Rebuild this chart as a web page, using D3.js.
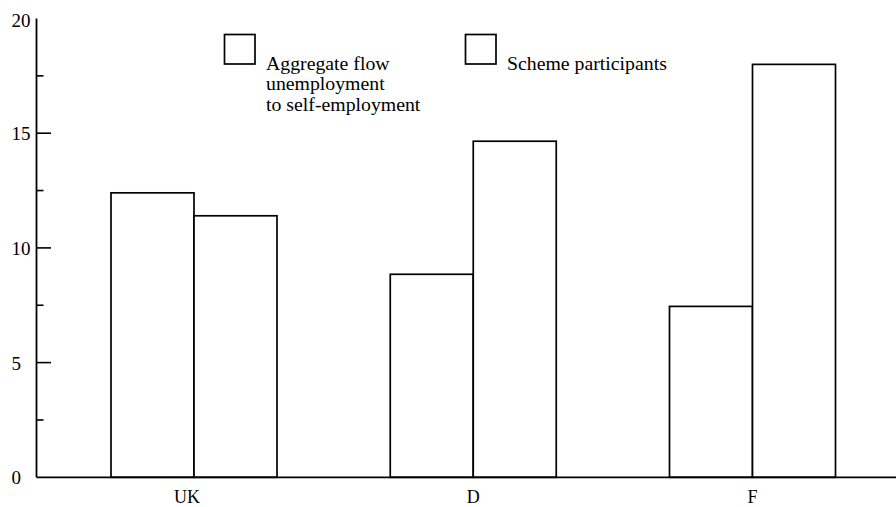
<!DOCTYPE html>
<html><head><meta charset="utf-8">
<script src="https://cdn.jsdelivr.net/npm/d3@7"></script>
<style>html,body{margin:0;padding:0;background:#fff;}svg{display:block;}</style>
</head><body>
<script>
const categories = ["UK", "D", "F"];
const seriesNames = ["Aggregate flow unemployment to self-employment", "Scheme participants"];
const aggregateFlow = [12.4, 8.85, 7.45];
const schemeParticipants = [11.4, 14.65, 18.0];
const majorTicks = [0, 5, 10, 15, 20];
const minorTicks = [2.5, 7.5, 12.5, 17.5];

const W = 896, H = 507;
const svg = d3.select("body").append("svg").attr("width", W).attr("height", H);
const font = "'Liberation Serif', 'Times New Roman', serif";

const y = d3.scaleLinear().domain([0, 20]).range([477.3, 18.5]);
const x = d3.scalePoint().domain(categories).range([194, 752.5]);
const xs = d3.scaleBand().domain(seriesNames).range([-83, 83]).padding(0);

const data = categories.map((c, i) => ({cat: c, values: [aggregateFlow[i], schemeParticipants[i]]}));

// bars
const g = svg.append("g");
data.forEach(d => {
  d.values.forEach((v, j) => {
    g.append("rect")
      .attr("x", x(d.cat) + xs(seriesNames[j]))
      .attr("y", y(v))
      .attr("width", xs.bandwidth())
      .attr("height", y(0) - y(v))
      .attr("fill", "#fff").attr("stroke", "#000").attr("stroke-width", 1.7);
  });
});

// y axis line
svg.append("line").attr("x1", 36.5).attr("x2", 36.5).attr("y1", y(20)).attr("y2", y(0))
  .attr("stroke", "#000").attr("stroke-width", 1.8);
// x axis line
svg.append("line").attr("x1", 36.5).attr("x2", 896).attr("y1", y(0)).attr("y2", y(0))
  .attr("stroke", "#000").attr("stroke-width", 1.8);

// ticks
majorTicks.filter(t => t > 0 && t < 20).forEach(t => {
  svg.append("line").attr("x1", 36.5).attr("x2", 51).attr("y1", y(t)).attr("y2", y(t))
    .attr("stroke", "#000").attr("stroke-width", 1.6);
});
minorTicks.forEach(t => {
  svg.append("line").attr("x1", 36.5).attr("x2", 43.5).attr("y1", y(t)).attr("y2", y(t))
    .attr("stroke", "#000").attr("stroke-width", 1.6);
});
majorTicks.forEach(t => {
  svg.append("text").attr("x", 11.5).attr("y", y(t) + (t === 20 ? 8 : 7))
    .attr("font-family", font).attr("font-size", 19).attr("fill", "#000")
    .text(t);
});

// category labels
categories.forEach(c => {
  svg.append("text").attr("x", x(c) - (c === "UK" ? 7 : 0)).attr("y", 502.5)
    .attr("text-anchor", "middle").attr("font-family", font).attr("font-size", 18)
    .attr("fill", "#000").text(c);
});

// legend
const legend = [
  {x: 224.5, lines: ["Aggregate flow", "unemployment", "to self-employment"]},
  {x: 465.5, lines: ["Scheme participants"]}
];
legend.forEach(l => {
  svg.append("rect").attr("x", l.x).attr("y", 34.5).attr("width", 30.5).attr("height", 29.5)
    .attr("fill", "#fff").attr("stroke", "#000").attr("stroke-width", 1.7);
  l.lines.forEach((s, i) => {
    svg.append("text").attr("x", l.x + 41.5).attr("y", 69.5 + i * 20.5)
      .attr("font-family", font).attr("font-size", 19.8).attr("fill", "#000").text(s);
  });
});
</script>
</body></html>
